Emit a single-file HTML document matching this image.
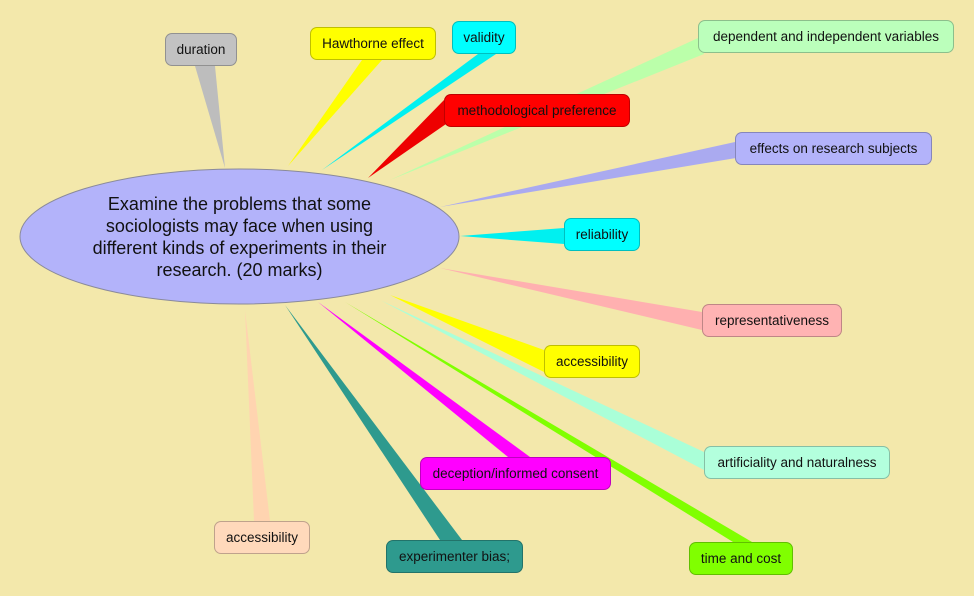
<!DOCTYPE html>
<html><head><meta charset="utf-8"><style>
html,body{margin:0;padding:0;}
body{width:974px;height:596px;background:#f3e8ab;position:relative;overflow:hidden;font-family:"Liberation Sans",sans-serif;}
svg{position:absolute;left:0;top:0;}
.n{position:absolute;box-sizing:border-box;border-radius:7px;border:1px solid rgba(0,0,0,0.25);font-size:13.5px;color:#111;display:flex;align-items:center;justify-content:center;white-space:nowrap;}
.c{position:absolute;left:20px;top:169px;width:439px;height:135px;display:flex;align-items:center;justify-content:center;text-align:center;font-size:18px;line-height:22px;color:#111;}
</style></head><body>
<svg width="974" height="596">
<polygon points="225,168 195,66 215,66" fill="#bdbdbd"/>
<polygon points="288,166 362,60 382,60" fill="#ffff00"/>
<polygon points="322,170 478,54 496,54" fill="#00f0f0"/>
<polygon points="390,180 698,38 704,54" fill="#bbffaa"/>
<polygon points="368,178 444,100 446,124" fill="#ee0000"/>
<polygon points="440,207 735,142 736,158" fill="#aaaaf0"/>
<polygon points="460,236 564,228 564,244" fill="#00f0f0"/>
<polygon points="440,268 702,312 702,330" fill="#ffb0b0"/>
<polygon points="390,295 544,350 544,372" fill="#ffff00"/>
<polygon points="380,300 704,452 704,470" fill="#aaffd8"/>
<polygon points="318,302 508,457 530,457" fill="#ff00ff"/>
<polygon points="345,302 733,542 752,542" fill="#80ff00"/>
<polygon points="285,305 440,540 462,540" fill="#2e9a8e"/>
<polygon points="245,310 254,521 270,521" fill="#ffd4b0"/>
<ellipse cx="239.5" cy="236.5" rx="219.5" ry="67.5" fill="#b3b3fa" stroke="#8a8a9a" stroke-width="1"/>
</svg>
<div class="c">Examine the problems that some<br>sociologists may face when using<br>different kinds of experiments in their<br>research. (20 marks)</div>
<div class="n" style="left:165px;top:33px;width:72px;height:33px;background:#c2c2c2">duration</div>
<div class="n" style="left:310px;top:27px;width:126px;height:33px;background:#ffff00">Hawthorne effect</div>
<div class="n" style="left:452px;top:21px;width:64px;height:33px;background:#00ffff">validity</div>
<div class="n" style="left:698px;top:20px;width:256px;height:33px;background:#bbffbb">dependent and independent variables</div>
<div class="n" style="left:444px;top:94px;width:186px;height:33px;background:#ff0000">methodological preference</div>
<div class="n" style="left:735px;top:132px;width:197px;height:33px;background:#b3b3fa">effects on research subjects</div>
<div class="n" style="left:564px;top:218px;width:76px;height:33px;background:#00ffff">reliability</div>
<div class="n" style="left:702px;top:304px;width:140px;height:33px;background:#ffb3b3">representativeness</div>
<div class="n" style="left:544px;top:345px;width:96px;height:33px;background:#ffff00">accessibility</div>
<div class="n" style="left:704px;top:446px;width:186px;height:33px;background:#b3ffdd">artificiality and naturalness</div>
<div class="n" style="left:420px;top:457px;width:191px;height:33px;background:#ff00ff">deception/informed consent</div>
<div class="n" style="left:214px;top:521px;width:96px;height:33px;background:#ffd9bb">accessibility</div>
<div class="n" style="left:386px;top:540px;width:137px;height:33px;background:#2e9a8e">experimenter bias;</div>
<div class="n" style="left:689px;top:542px;width:104px;height:33px;background:#80ff00">time and cost</div>
</body></html>
